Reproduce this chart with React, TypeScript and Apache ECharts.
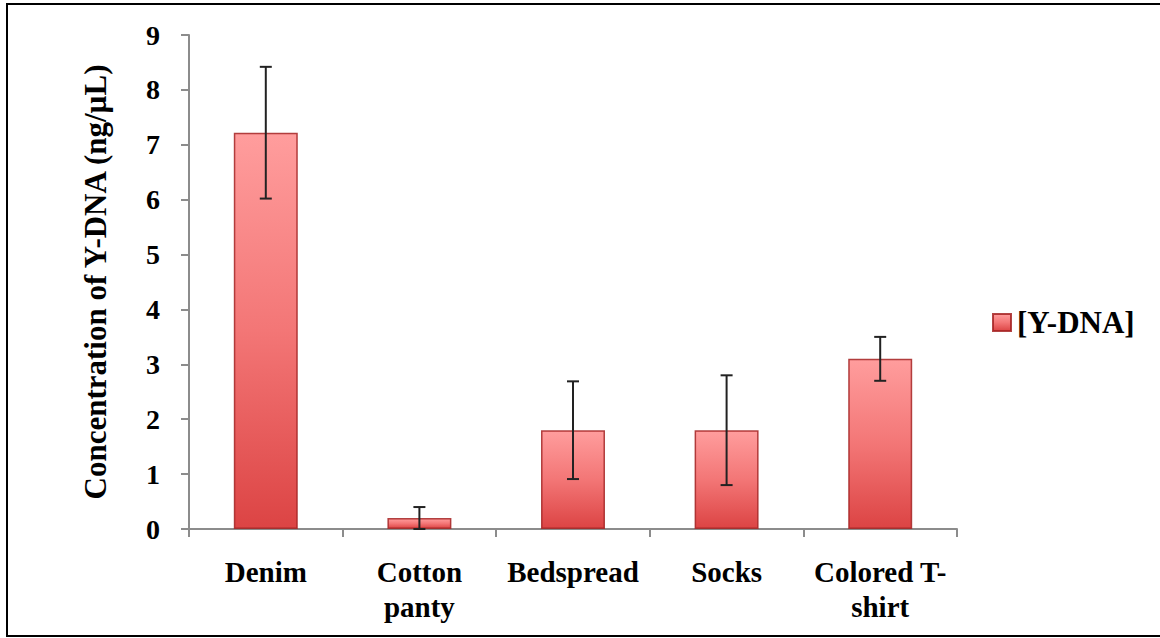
import React, { useEffect, useRef } from "react";
import * as echarts from "echarts";

const categories = ["Denim", "Cotton\npanty", "Bedspread", "Socks", "Colored T-\nshirt"];
const means = [7.22, 0.2, 1.8, 1.8, 3.1];
const errors = [1.2, 0.2, 0.89, 1.0, 0.4];
const seriesName = "[Y-DNA]";
const yTitle = "Concentration of Y-DNA (ng/µL)";

const FONT = "'Liberation Serif', 'DejaVu Serif', serif";

export default function App() {
  const ref = useRef<HTMLDivElement>(null);
  useEffect(() => {
    document.body.style.margin = "0";
    const chart = echarts.init(ref.current!, null, { renderer: "svg" });
    const barColor = new echarts.graphic.LinearGradient(0, 0, 0, 1, [
      { offset: 0, color: "#ff9d9d" },
      { offset: 0.5, color: "#f37676" },
      { offset: 1, color: "#dc4444" },
    ]);
    const errData = means.map((m, i) => [i, m - errors[i], m + errors[i]]);
    chart.setOption({
      animation: false,
      backgroundColor: "#ffffff",
      grid: { left: 189, right: 203, top: 35, bottom: 109, containLabel: false },
      legend: {
        data: [seriesName],
        left: 992,
        top: 307,
        padding: 0,
        orient: "vertical",
        icon: "rect",
        itemWidth: 18,
        itemHeight: 17,
        itemGap: 4,
        textStyle: { fontFamily: FONT, fontWeight: "bold", fontSize: 31, color: "#000", padding: [0, 0, 0, 1] },
      },
      xAxis: {
        type: "category",
        data: categories,
        boundaryGap: true,
        axisLine: { lineStyle: { color: "#8c8c8c", width: 2 } },
        axisTick: { show: true, alignWithLabel: false, length: 8, inside: false, lineStyle: { color: "#8c8c8c", width: 2 } },
        axisLabel: {
          interval: 0,
          margin: 25,
          fontFamily: FONT,
          fontWeight: "bold",
          fontSize: 29,
          color: "#000",
          lineHeight: 35,
        },
      },
      yAxis: {
        type: "value",
        min: 0,
        max: 9,
        interval: 1,
        name: yTitle,
        nameLocation: "middle",
        nameGap: 78,
        nameRotate: 90,
        nameTextStyle: { fontFamily: FONT, fontWeight: "bold", fontSize: 31, color: "#000" },
        axisLine: { show: true, lineStyle: { color: "#8c8c8c", width: 2 } },
        axisTick: { show: true, length: 8, lineStyle: { color: "#8c8c8c", width: 2 } },
        splitLine: { show: false },
        axisLabel: { margin: 29, fontFamily: FONT, fontWeight: "bold", fontSize: 28, color: "#000" },
      },
      series: [
        {
          name: seriesName,
          type: "bar",
          data: means,
          barWidth: 64,
          itemStyle: { color: barColor, borderColor: "rgba(165,35,35,0.85)", borderWidth: 1.5 },
        },
        {
          name: "err",
          type: "custom",
          data: errData,
          z: 10,
          renderItem: (params: any, api: any) => {
            const x = api.value(0);
            const lo = api.coord([x, api.value(1)]);
            const hi = api.coord([x, api.value(2)]);
            const hw = 6;
            const style = { stroke: "#222", lineWidth: 2 };
            return {
              type: "group",
              children: [
                { type: "line", shape: { x1: lo[0], y1: lo[1], x2: hi[0], y2: hi[1] }, style },
                { type: "line", shape: { x1: hi[0] - hw, y1: hi[1], x2: hi[0] + hw, y2: hi[1] }, style },
                { type: "line", shape: { x1: lo[0] - hw, y1: lo[1], x2: lo[0] + hw, y2: lo[1] }, style },
              ],
            };
          },
        },
      ],
      graphic: [
        {
          type: "rect",
          shape: { x: 7, y: 4, width: 1170, height: 632 },
          style: { fill: "none", stroke: "#000", lineWidth: 2 },
          silent: true,
        },
      ],
    });
    return () => chart.dispose();
  }, []);
  return (
    <div
      ref={ref}
      style={{ position: "absolute", left: 0, top: 0, width: 1160, height: 638 }}
    />
  );
}
